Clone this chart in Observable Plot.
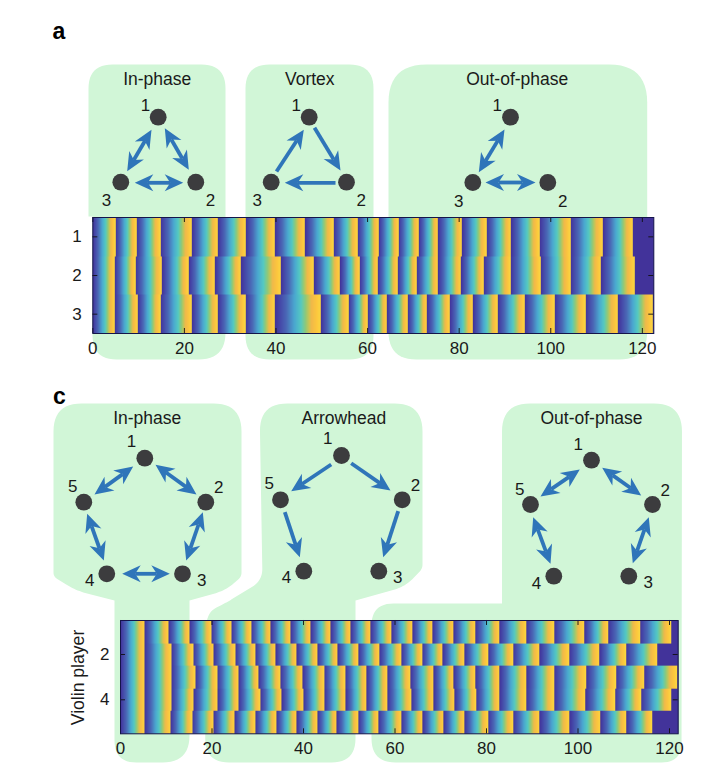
<!DOCTYPE html>
<html>
<head>
<meta charset="utf-8">
<script src="https://cdn.jsdelivr.net/npm/d3@7"></script>
<script src="https://cdn.jsdelivr.net/npm/@observablehq/plot@0.6"></script>
<style>
html,body{margin:0;padding:0;background:#fff;}
#page{position:relative;width:709px;height:782px;overflow:hidden;}
#page>*{position:absolute;left:0;}
</style>
</head>
<body>
<div id="page"></div>
<script>
const FONT = '"Liberation Sans", Arial, sans-serif';
const GREEN = "#d1f6d7", BLUE = "#2f75b9", NODE = "#3c3c3e";

// Firing times (s) of each player, panel a (three players)
const spikesA1 = [4.95,9.53,14.76,21.67,27.35,33.45,39.78,46.4,52.58,57.82,62.45,66.74,71.19,75.41,80.66,85.97,91.36,97.55,104.33,111.46,117.95];
const spikesA2 = [4.8,9.31,15.13,20.95,26.69,32.36,41.09,48.36,54.04,58.25,62.23,66.6,70.68,75.41,80.44,85.39,91.22,97.77,104.33,111.03,118.31];
const spikesA3 = [4.8,9.82,14.76,21.67,27.35,33.31,39.85,49.82,55.85,60,64.27,68.78,73,77.96,83.06,88.45,94.35,100.83,107.6,114.74,122.3];
// Firing times (s) of each player, panel c (five players)
const spikesC1 = [5.3,10.55,15.13,19.85,24.22,28.51,32.87,37.16,41.6,45.96,50.33,54.69,59.27,63.87,68.25,72.85,77.59,82.85,88.69,94.74,101.46,106.64,113.5,120.3];
const spikesC2 = [5.3,11.13,15.85,20.36,25.09,29.45,33.96,38.55,43.05,47.49,52,56.58,61.39,65.91,70.44,75.18,80.29,85.77,91.6,98.03,104.74,110.44,117.37];
const spikesC3 = [5.3,11.13,16.36,21.09,25.82,30.18,34.91,39.85,44.51,49.09,53.82,58.33,63.36,68.47,72.85,77.59,82.85,88.76,94.74,101.82,108.25,114.45,121.6];
const spikesC4 = [5.3,11.13,16,21.24,25.82,30.55,35.27,40,44.58,49.24,53.82,58.33,63.58,68.47,73.07,77.74,82.85,88.69,94.74,101.68,108.03,113.72,120.3];
const spikesC5 = [5.3,10.98,15.64,20.36,24.95,29.45,34.04,38.55,43.05,47.27,52,56.36,61.39,66.06,70.66,75.18,80.29,85.77,91.6,98.18,104.96,110.58,116.14];

const xTicks = [0,20,40,60,80,100,120];
const yTicksA = [1,2,3];
const yTicksC = [2,4];

const phaseStops  = [0,.10,.24,.42,.56,.66,.73,.79,.90,1];
const phaseColors = ["#42339a","#4548a8","#4a68b6","#4aa8d0","#54c9c2","#8cc97c","#c2c658","#f0b94a","#fcc63e","#fbd840"];

// Diagram nodes, labels, arrows and titles
const nodes = [
 [157.7,116.7],[195.3,181.7],[120.3,181.7],
 [308.7,116.7],[346,181.7],[270.7,181.7],
 [510,116.7],[547.3,182],[472.3,182],
 [144.3,457.7],[205.3,501.7],[182,573.3],[106.3,573.3],[83.3,501.7],
 [341,455],[401.7,499.3],[378.3,570.7],[303.3,570.7],[280,499.3],
 [591,459.7],[652,504],[628.3,575.7],[553.3,575.7],[530,504]
];
const nodeLabels = [
 ["1",145,105],["2",210,200],["3",106,200],
 ["1",295.7,105],["2",360.7,200],["3",256.7,200],
 ["1",496.7,105],["2",562.3,200.7],["3",458.3,200.7],
 ["1",131,441],["2",218.3,487.3],["3",201.3,580],["4",89.3,580],["5",72.3,486],
 ["1",327.3,438.3],["2",415,485],["3",397.3,577.3],["4",286,577.3],["5",268.7,482.7],
 ["1",577.7,444.3],["2",664.7,490],["3",647.7,581.7],["4",536,582.7],["5",519.3,489]
];
const twoWayArrows = [
 [151,129.3,126.7,170.7],[164.3,127.7,188.3,169.3],[134.3,182.3,182.7,182.3],
 [504,129,478.3,171.7],[485,182,535,182],
 [132.7,466,94,494],[155,464.3,196,494],[202.3,511.7,185.7,560],[86.7,513.3,103.3,560],[121.7,573.3,169.3,573.3],
 [579.3,469,540,496],[601.7,467.3,640.7,495],[648.3,516.7,632.3,562.7],[532.7,516.7,550,563.3]
];
const oneWayArrows = [
 [276,171,303.3,129.3],[314,127.3,340,170],[335,182.3,284.3,182.3],
 [330.7,464,290.7,490.7],[350.7,462.7,390,490],[284.3,511.7,299.3,556.7],[397.7,510.7,382.7,556.7]
];
const titles = [
 ["In-phase",156.7,79.3],["Vortex",309.3,79.3],["Out-of-phase",516.7,79.3],
 ["In-phase",146.7,418.3],["Arrowhead",343.3,418.3],["Out-of-phase",591,418.3]
];
const panelLetters = [["a",58.3,31],["c",59,396]];

// Green backgrounds: outline corners [x, y, corner radius]
const outlines = [
 [[88,64,24],[225,64,24],[225,359,27],[92,359,24],[92,216,0],[88,216,0]],
 [[245,64,24],[373,64,24],[373,359,24],[245,359,24]],
 [[388,64,38],[646.7,64,38],[646.7,359,28],[388,359,28]],
 [[53,403,28],[241,403,28],[241,576,4],[225,590,12],[189,600,0],[189,762,27],[114,762,22],[114,600,0],[75,590,12],[53,576,4]],
 [[259,403,28],[422,403,28],[422,568,4],[405,586,12],[355,600,0],[355,762,24],[204.5,762,24],[206,612,14],[226,602,6],[262,580,12]],
 [[501.5,403,28],[681.5,403,28],[681,762,20],[371,762,24],[371,603,22],[501.5,603,0]]
];

function roundOutline(verts, id){
  const out = [], n = verts.length;
  verts.forEach((p,i)=>{
    const r = p[2];
    if(!r){ out.push({id,x:p[0],y:p[1]}); return; }
    const a = verts[(i+n-1)%n], b = verts[(i+1)%n];
    const toward = (q)=>{ const d=Math.hypot(q[0]-p[0],q[1]-p[1]), k=Math.min(r/d,.5); return [p[0]+(q[0]-p[0])*k,p[1]+(q[1]-p[1])*k]; };
    const s = toward(a), e = toward(b);
    for(let t=0;t<=1.0001;t+=1/12){
      const u=1-t;
      out.push({id,x:u*u*s[0]+2*u*t*p[0]+t*t*e[0],y:u*u*s[1]+2*u*t*p[1]+t*t*e[1]});
    }
  });
  return out;
}
const outlinePoints = outlines.flatMap(roundOutline);

// Arrow shafts and swept heads from arrow end points
const HEAD_L=18.5, HEAD_W=8.5, NOTCH=13;
const heads=[], shafts=[];
function addHead(tx,ty,fx,fy){
  const d=Math.hypot(tx-fx,ty-fy), ux=(tx-fx)/d, uy=(ty-fy)/d, id=heads.length;
  [[0,0],[HEAD_L,HEAD_W],[NOTCH,0],[HEAD_L,-HEAD_W]].forEach(([l,w])=>{
    heads.push({id,x:tx-ux*l-uy*w,y:ty-uy*l+ux*w});
  });
}
function trim(x,y,ox,oy,k){ const d=Math.hypot(ox-x,oy-y); return [x+(ox-x)/d*k,y+(oy-y)/d*k]; }
twoWayArrows.forEach(([a,b,c,d])=>{ addHead(a,b,c,d); addHead(c,d,a,b); shafts.push([...trim(a,b,c,d,NOTCH),...trim(c,d,a,b,NOTCH)]); });
oneWayArrows.forEach(([a,b,c,d])=>{ addHead(c,d,a,b); shafts.push([a,b,...trim(c,d,a,b,NOTCH)]); });

const page = document.getElementById("page");

// Backdrop diagrams
const backdrop = Plot.plot({
  width:709,height:782,margin:0,
  x:{domain:[0,709],range:[0,709],axis:null},
  y:{domain:[0,782],range:[0,782],axis:null},
  style:{background:"transparent",fontFamily:FONT},
  marks:[
    Plot.line(outlinePoints,{x:"x",y:"y",z:"id",fill:GREEN,stroke:"none",curve:"linear-closed"}),
    Plot.link(shafts,{x1:d=>d[0],y1:d=>d[1],x2:d=>d[2],y2:d=>d[3],stroke:BLUE,strokeWidth:3.8}),
    Plot.line(heads,{x:"x",y:"y",z:"id",fill:BLUE,stroke:"none",curve:"linear-closed"}),
    Plot.dot(nodes,{x:d=>d[0],y:d=>d[1],r:8.4,fill:NODE,stroke:"none"}),
    Plot.text(nodeLabels,{text:d=>d[0],x:d=>d[1],y:d=>d[2],fontSize:17,fill:"#1a1a1a"}),
    Plot.text(titles,{text:d=>d[0],x:d=>d[1],y:d=>d[2],fontSize:17.5,fill:"#1a1a1a"}),
    Plot.text(panelLetters,{text:d=>d[0],x:d=>d[1],y:d=>d[2],fontSize:23,fontWeight:"bold",fill:"#000"}),
    Plot.text(["Violin player"],{text:d=>d,x:[78],y:[677],rotate:-90,fontSize:17.6,fill:"#1a1a1a"})
  ]
});
page.append(backdrop);

const phaseColor = d3.scaleLinear(phaseStops, phaseColors).interpolate(d3.interpolateRgb);

// Phase heatmap: phase runs 0 to 1 between two firing times of a player
function phaseMap(rows, xMax, yTicks, left, right, plotHeight, top){
  const n = rows.length;
  const phase = (x,y)=>{
    const s = rows[Math.min(n-1,Math.max(0,Math.round(y)-1))];
    const i = d3.bisectRight(s,x);
    if(i>=s.length) return 0;
    const a = i===0?0:s[i-1];
    return (x-a)/(s[i]-a);
  };
  const tickY = 5/plotHeight*n;
  const tickX = 5/(709-left-right)*xMax;
  const chart = Plot.plot({
    width:709,height:plotHeight+50,
    marginLeft:left,marginRight:right,marginTop:5,marginBottom:45,
    x:{domain:[0,xMax],axis:null},
    y:{domain:[n+.5,.5],axis:null},
    color:{type:"linear",domain:[0,1],interpolate:phaseColor},
    style:{background:"transparent",fontFamily:FONT,fontSize:"17px",color:"#1a1a1a"},
    marks:[
      Plot.raster({fill:phase,x1:0,x2:xMax,y1:.5,y2:n+.5,pixelSize:1,imageRendering:"auto"}),
      Plot.ruleX(xTicks,{y1:n+.5,y2:n+.5-tickY,stroke:"#111",strokeWidth:.9}),
      Plot.ruleX(xTicks,{y1:.5,y2:.5+tickY,stroke:"#111",strokeWidth:.9}),
      Plot.ruleY(yTicks,{x1:0,x2:tickX,stroke:"#111",strokeWidth:.9}),
      Plot.ruleY(yTicks,{x1:xMax,x2:xMax-tickX,stroke:"#111",strokeWidth:.9}),
      Plot.frame({stroke:"#14144a",strokeWidth:1}),
      Plot.axisX(xTicks,{anchor:"bottom",label:null,tickSize:0,tickPadding:8,fontVariant:"normal"}),
      Plot.axisY(yTicks,{anchor:"left",label:null,tickSize:0,tickPadding:11,fontVariant:"normal"})
    ]
  });
  chart.style.top = top+"px";
  return chart;
}
page.append(phaseMap([spikesA1,spikesA2,spikesA3],122.5,yTicksA,92.3,55.7,116,211.7));
page.append(phaseMap([spikesC1,spikesC2,spikesC3,spikesC4,spikesC5],121.9,yTicksC,120,31.3,113.3,615));
</script>
</body>
</html>
